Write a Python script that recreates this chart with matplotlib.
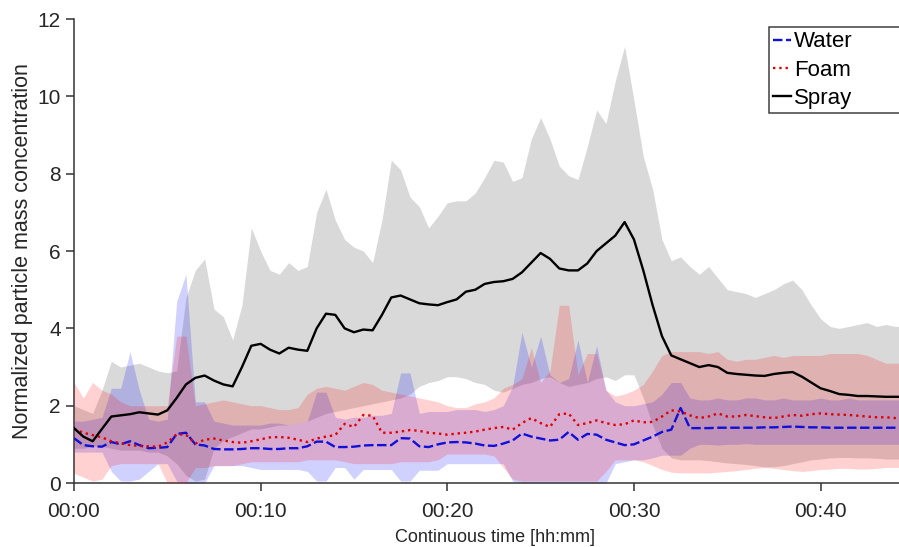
import numpy as np
import matplotlib
matplotlib.use("Agg")
import matplotlib.pyplot as plt

plt.rcParams['font.family'] = ['Liberation Sans', 'DejaVu Sans']

# time axis in minutes, 30 s resolution
minutes = np.arange(0, 45, 0.5)

spray_mean = [
    1.42, 1.20, 1.08, 1.40, 1.72, 1.75, 1.78, 1.83, 1.80, 1.77,
    1.88, 2.20, 2.55, 2.72, 2.78, 2.65, 2.55, 2.50, 3.00, 3.55,
    3.60, 3.45, 3.35, 3.50, 3.45, 3.42, 4.00, 4.38, 4.35, 4.00,
    3.90, 3.97, 3.95, 4.35, 4.80, 4.85, 4.75, 4.65, 4.62, 4.60,
    4.68, 4.75, 4.95, 5.00, 5.15, 5.20, 5.22, 5.28, 5.45, 5.70,
    5.95, 5.80, 5.55, 5.50, 5.50, 5.68, 6.00, 6.20, 6.40, 6.75,
    6.30, 5.50, 4.60, 3.80, 3.30, 3.20, 3.10, 3.00, 3.05, 3.00,
    2.85, 2.82, 2.80, 2.78, 2.77, 2.82, 2.85, 2.87, 2.75, 2.60,
    2.45, 2.38, 2.30, 2.28, 2.25, 2.25, 2.24, 2.23, 2.23, 2.23,
]
spray_hi = [
    2.00, 1.90, 1.80, 2.40, 3.15, 3.00, 3.05, 3.10, 3.00, 2.90,
    2.85, 2.90, 4.80, 5.50, 5.80, 4.50, 4.30, 3.70, 4.60, 6.60,
    6.00, 5.50, 5.40, 5.70, 5.50, 5.60, 7.00, 7.60, 6.80, 6.30,
    6.10, 6.00, 5.70, 6.80, 8.35, 8.10, 7.40, 7.15, 6.60, 6.90,
    7.25, 7.30, 7.30, 7.50, 7.90, 8.35, 8.30, 7.80, 7.90, 8.90,
    9.45, 8.90, 8.20, 7.95, 7.85, 8.70, 9.65, 9.30, 10.40, 11.30,
    9.90, 8.45, 7.60, 6.30, 5.75, 5.85, 5.60, 5.40, 5.60, 5.30,
    5.00, 4.95, 4.90, 4.80, 4.90, 5.00, 5.15, 5.25, 5.00, 4.60,
    4.25, 4.05, 4.00, 4.05, 4.10, 4.15, 4.05, 4.10, 4.05, 4.05,
]
spray_lo = [
    0.90, 0.90, 0.95, 0.95, 0.90, 0.85, 0.85, 0.85, 0.80, 0.80,
    0.70, 0.50, 0.20, 0.05, 0.10, 0.90, 1.10, 1.20, 1.30, 1.40,
    1.40, 1.45, 1.50, 1.50, 1.55, 1.60, 1.70, 1.80, 1.85, 1.90,
    1.95, 2.00, 2.05, 2.10, 2.15, 2.20, 2.30, 2.50, 2.60, 2.65,
    2.75, 2.75, 2.70, 2.60, 2.55, 2.40, 2.35, 2.45, 2.55, 2.60,
    2.70, 2.75, 2.60, 2.50, 2.55, 2.60, 2.70, 2.75, 2.65, 2.80,
    2.80, 2.20, 1.50, 0.90, 0.65, 0.60, 0.60, 0.60, 0.58, 0.55,
    0.52, 0.50, 0.48, 0.45, 0.42, 0.42, 0.45, 0.50, 0.55, 0.60,
    0.62, 0.65, 0.66, 0.66, 0.65, 0.65, 0.64, 0.62, 0.62, 0.62,
]

water_mean = [
    1.16, 0.98, 0.95, 0.94, 1.06, 1.00, 1.08, 0.98, 0.90, 0.91,
    0.93, 1.27, 1.30, 1.00, 0.97, 0.88, 0.87, 0.87, 0.88, 0.90,
    0.90, 0.88, 0.88, 0.90, 0.90, 0.95, 1.07, 1.07, 0.93, 0.93,
    0.94, 0.97, 0.98, 0.98, 0.98, 1.16, 1.15, 0.95, 0.93, 1.00,
    1.05, 1.06, 1.05, 1.02, 0.97, 0.96, 1.02, 1.10, 1.28, 1.20,
    1.15, 1.10, 1.12, 1.32, 1.12, 1.27, 1.25, 1.12, 1.05, 0.98,
    1.00, 1.10, 1.20, 1.32, 1.38, 1.94, 1.42, 1.42, 1.42, 1.43,
    1.43, 1.43, 1.43, 1.43, 1.44, 1.44, 1.45, 1.46, 1.45, 1.44,
    1.44, 1.43, 1.43, 1.43, 1.43, 1.43, 1.43, 1.43, 1.43, 1.43,
]
water_hi = [
    1.60, 1.60, 1.65, 1.70, 2.45, 2.45, 3.40, 2.40, 1.65, 1.60,
    1.65, 4.70, 5.40, 2.10, 2.10, 1.60, 1.55, 1.50, 1.50, 1.50,
    1.50, 1.55, 1.55, 1.50, 1.55, 1.60, 2.35, 2.35, 1.70, 1.65,
    1.70, 1.70, 1.75, 1.75, 1.80, 2.85, 2.85, 1.80, 1.85, 1.85,
    1.85, 1.90, 1.90, 1.90, 1.85, 1.90, 2.00, 2.50, 3.90, 3.00,
    3.80, 2.80, 2.60, 2.70, 3.70, 2.60, 3.55, 2.40, 2.10, 2.00,
    2.00, 2.05, 2.10, 2.30, 2.60, 2.60, 2.20, 2.15, 2.15, 2.20,
    2.15, 2.15, 2.20, 2.20, 2.15, 2.15, 2.20, 2.15, 2.15, 2.15,
    2.20, 2.15, 2.15, 2.20, 2.15, 2.15, 2.15, 2.15, 2.15, 2.15,
]
water_lo = [
    0.80, 0.80, 0.80, 0.80, 0.30, 0.05, 0.05, 0.10, 0.30, 0.50,
    0.50, 0.05, 0.00, 0.00, 0.00, 0.45, 0.45, 0.45, 0.45, 0.40,
    0.35, 0.35, 0.35, 0.35, 0.35, 0.30, 0.05, 0.05, 0.40, 0.40,
    0.10, 0.35, 0.35, 0.35, 0.35, 0.05, 0.05, 0.33, 0.33, 0.33,
    0.50, 0.50, 0.50, 0.50, 0.50, 0.50, 0.50, 0.05, 0.00, 0.00,
    0.00, 0.00, 0.00, 0.00, 0.00, 0.00, 0.00, 0.00, 0.50, 0.55,
    0.60, 0.60, 0.65, 0.72, 0.72, 0.72, 0.90, 1.00, 1.00, 0.98,
    1.00, 1.00, 1.02, 1.00, 1.00, 1.00, 1.00, 1.00, 1.00, 1.00,
    1.00, 1.00, 1.00, 1.00, 1.00, 1.00, 1.00, 1.00, 1.00, 1.00,
]

foam_mean = [
    1.40, 1.30, 1.24, 1.18, 1.08, 1.03, 0.98, 0.96, 0.95, 0.94,
    1.05, 1.26, 1.25, 1.02, 1.12, 1.15, 1.10, 1.06, 1.04, 1.08,
    1.13, 1.18, 1.19, 1.17, 1.12, 1.06, 1.15, 1.20, 1.24, 1.53,
    1.45, 1.76, 1.74, 1.30, 1.30, 1.33, 1.37, 1.35, 1.30, 1.28,
    1.25, 1.28, 1.30, 1.33, 1.38, 1.42, 1.45, 1.38, 1.55, 1.68,
    1.55, 1.45, 1.78, 1.80, 1.50, 1.55, 1.62, 1.55, 1.50, 1.52,
    1.62, 1.57, 1.58, 1.72, 1.88, 1.85, 1.75, 1.68, 1.72, 1.80,
    1.72, 1.72, 1.76, 1.73, 1.70, 1.68, 1.72, 1.76, 1.74, 1.78,
    1.80, 1.78, 1.77, 1.76, 1.74, 1.72, 1.70, 1.70, 1.68, 1.68,
]
foam_hi = [
    2.60, 2.20, 2.60, 2.40, 2.30, 2.10, 2.00, 2.00, 2.00, 2.00,
    2.00, 3.80, 3.80, 2.00, 2.05, 2.10, 2.15, 2.10, 2.05, 2.00,
    2.00, 1.95, 1.90, 1.90, 1.95, 2.30, 2.45, 2.50, 2.45, 2.40,
    2.50, 2.60, 2.55, 2.40, 2.35, 2.30, 2.25, 2.20, 2.15, 2.10,
    2.00, 1.95, 1.95, 2.05, 2.10, 2.20, 2.45, 2.55, 2.70, 3.50,
    2.60, 2.90, 4.60, 4.60, 2.80, 3.35, 3.35, 2.40, 2.25, 2.30,
    2.40, 2.55, 2.90, 3.30, 3.40, 3.40, 3.40, 3.40, 3.35, 3.40,
    3.20, 3.15, 3.20, 3.20, 3.25, 3.30, 3.25, 3.30, 3.30, 3.30,
    3.30, 3.35, 3.35, 3.35, 3.35, 3.30, 3.20, 3.10, 3.10, 3.10,
]
foam_lo = [
    0.25, 0.15, 0.05, 0.10, 0.45, 0.50, 0.50, 0.50, 0.50, 0.50,
    0.00, 0.00, 0.00, 0.40, 0.40, 0.45, 0.45, 0.45, 0.50, 0.55,
    0.55, 0.55, 0.55, 0.55, 0.55, 0.60, 0.60, 0.60, 0.60, 0.55,
    0.50, 0.50, 0.50, 0.50, 0.50, 0.55, 0.55, 0.55, 0.55, 0.60,
    0.75, 0.75, 0.75, 0.75, 0.75, 0.70, 0.40, 0.10, 0.05, 0.05,
    0.05, 0.05, 0.05, 0.05, 0.05, 0.05, 0.05, 0.30, 0.60, 0.60,
    0.60, 0.55, 0.45, 0.35, 0.28, 0.26, 0.26, 0.26, 0.26, 0.28,
    0.30, 0.32, 0.35, 0.38, 0.40, 0.38, 0.35, 0.32, 0.30, 0.32,
    0.35, 0.36, 0.38, 0.38, 0.36, 0.36, 0.38, 0.40, 0.40, 0.40,
]

tick_minutes = [0, 10, 20, 30, 40]
tick_labels = ['00:00', '00:10', '00:20', '00:30', '00:40']

fig = plt.figure(figsize=(8.99, 5.47), dpi=100)
ax = fig.add_axes([0.0823, 0.117, 0.9177, 0.848])

# spread bands first, then the mean curves on top
ax.fill_between(minutes, spray_lo, spray_hi, color='#d9d9d9', lw=0, zorder=1)
ax.fill_between(minutes, water_lo, water_hi, color='#0000ff', alpha=0.18, lw=0, zorder=2)
ax.fill_between(minutes, foam_lo, foam_hi, color='#ff0000', alpha=0.18, lw=0, zorder=3)

ax.plot(minutes, water_mean, color='#1010d8', lw=1.7, dashes=(4, 1.5), label='Water', zorder=4)
ax.plot(minutes, foam_mean, color='#e00000', lw=1.7, ls=':', label='Foam', zorder=5)
ax.plot(minutes, spray_mean, color='black', lw=1.7, label='Spray', zorder=6)

ax.set_xlim(0, 44.2)
ax.set_ylim(0, 12)
ax.set_yticks(range(0, 13, 2))
ax.set_xticks(tick_minutes)
ax.set_xticklabels(tick_labels)

for side in ('top', 'right'):
    ax.spines[side].set_visible(False)
for side in ('left', 'bottom'):
    ax.spines[side].set_color('0.2')
    ax.spines[side].set_linewidth(1.1)
ax.tick_params(direction='out', length=6, width=1.1, color='0.2',
               labelsize=15, labelcolor='0.15')
ax.tick_params(axis='x', pad=8)

ax.set_ylabel('Normalized particle mass concentration', fontsize=15.5, color='0.15')
ax.yaxis.set_label_coords(-0.05, 0.5)
ax.set_xlabel('Continuous time [hh:mm]', fontsize=13, color='0.15')
ax.xaxis.set_label_coords(0.51, -0.1)

leg = ax.legend(loc='upper left', bbox_to_anchor=(0.842, 0.5, 0.2, 0.483),
                mode='expand', fontsize=16, handlelength=0.8, handletextpad=0.15,
                labelspacing=0.32, borderpad=0.2, borderaxespad=0,
                fancybox=False, framealpha=1)
leg.get_frame().set_edgecolor('0.25')
leg.get_frame().set_linewidth(1.1)

fig.savefig('out.png', dpi=100)
